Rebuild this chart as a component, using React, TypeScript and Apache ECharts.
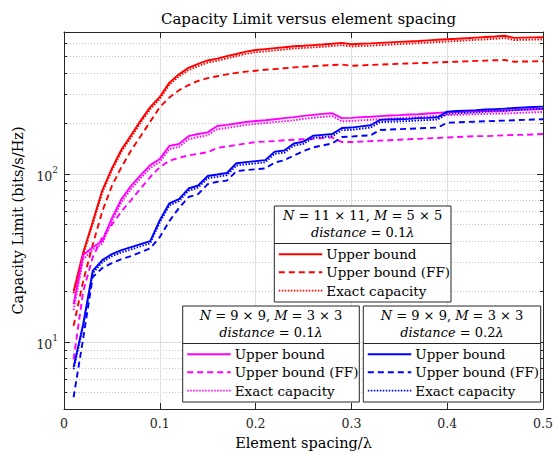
import React, { useEffect, useRef } from "react";
import * as echarts from "echarts";

// ---------- data ----------
const spacing = [
  0.01, 0.02, 0.03, 0.04, 0.05, 0.06, 0.07, 0.08, 0.09, 0.1,
  0.11, 0.12, 0.13, 0.14, 0.15, 0.16, 0.17, 0.18, 0.19, 0.2,
  0.21, 0.22, 0.23, 0.24, 0.25, 0.26, 0.27, 0.28, 0.29, 0.3,
  0.31, 0.32, 0.33, 0.34, 0.35, 0.36, 0.37, 0.38, 0.39, 0.4,
  0.41, 0.42, 0.43, 0.44, 0.45, 0.46, 0.47, 0.48, 0.49, 0.5,
];

// N = 11x11, M = 5x5, distance = 0.1 lambda (red)
const redUpper = [
  20, 34, 52, 80, 108, 140, 170, 208, 250, 288,
  350, 392, 428, 452, 474, 486, 503, 518, 535, 547,
  554, 561, 568, 576, 580, 585, 590, 596, 603, 592,
  596, 599, 603, 607, 611, 615, 619, 624, 629, 634,
  638, 643, 648, 653, 658, 665, 646, 648, 650, 652,
];
const redUpperFF = [
  12.5, 23, 38, 60, 85, 110, 138, 168, 205, 250,
  285, 315, 338, 358, 372, 382, 392, 400, 407, 412,
  417, 421, 426, 431, 435, 438, 442, 445, 448, 441,
  443, 446, 448, 450, 453, 455, 457, 459, 462, 464,
  466, 468, 471, 473, 475, 477, 466, 467, 468, 469,
];
const redExact = [
  19.5, 33, 50.5, 77.5, 105, 136, 165, 202, 243, 280,
  340, 381, 415, 439, 460, 472, 488, 503, 519, 531,
  537, 544, 551, 559, 563, 567, 572, 578, 585, 574,
  578, 581, 585, 589, 593, 597, 600, 605, 610, 615,
  619, 624, 629, 633, 638, 645, 627, 629, 631, 632,
];

// N = 9x9, M = 3x3, distance = 0.1 lambda (magenta)
const magentaUpper = [
  16.8, 33, 36.7, 40, 54.7, 71, 85, 98.6, 113, 123,
  147, 151, 168, 173, 177, 193, 196, 200, 204, 207,
  209, 212, 215, 218, 222, 225, 228, 230, 215, 216,
  218, 219, 221, 223, 224, 226, 227, 229, 231, 233,
  234, 235, 236, 237, 238, 239, 240, 242, 243, 244,
];
const magentaUpperFF = [
  7.9, 20, 32, 42, 50, 60, 70, 82, 96, 110,
  120, 125, 129, 132, 135, 143, 146, 149, 152, 155,
  156, 157, 159, 160, 161, 162, 164, 165, 155, 155,
  156, 157, 158, 159, 160, 161, 162, 163, 164, 165,
  166, 167, 168, 168, 169, 170, 171, 171, 172, 173,
];
const magentaExact = [
  15.5, 31, 35.5, 38.5, 52.5, 68, 81.5, 94.5, 108.5, 118,
  141, 145, 161, 166, 170, 185, 188, 192, 196, 199,
  201, 204, 206, 209, 213, 216, 219, 221, 206, 207,
  209, 210, 212, 214, 215, 217, 218, 220, 222, 224,
  225, 226, 227, 228, 229, 229, 230, 232, 233, 234,
];

// N = 9x9, M = 3x3, distance = 0.2 lambda (blue)
const blueUpper = [
  7.1, 12.8, 26.5, 30.8, 33.4, 35.3, 36.7, 38.3, 39.9, 53.2,
  67, 71, 82, 85.5, 97.3, 99.3, 101.4, 116, 117.8, 119.4,
  121, 136, 138, 152, 156, 169, 171, 173, 188, 189,
  192, 195, 210, 211, 212, 213, 215, 216, 217.5, 235,
  237, 238.5, 240, 242, 243.5, 245, 247, 249, 250.5, 252,
];
const blueUpperFF = [
  4.7, 10.5, 24.4, 27.6, 29.5, 31.2, 32.5, 34.3, 36.1, 42.2,
  52.5, 62.8, 73, 76, 87, 90, 91.4, 104, 105.6, 106.7,
  108, 117, 121, 129, 137, 144, 148, 152, 166, 167,
  169, 170, 183, 184, 185, 186, 187, 188, 189, 202,
  203, 204, 205, 206, 207, 208, 209, 210, 211, 212,
];
const blueExact = [
  6.9, 12.4, 25.7, 29.9, 32.4, 34.2, 35.6, 37.2, 38.7, 51.6,
  65, 69, 79.5, 83, 94.4, 96.3, 98.4, 112.5, 114.3, 115.8,
  117.4, 132, 134, 147.4, 151.3, 164, 166, 168, 182.4, 183.3,
  186, 189, 203.7, 204.7, 205.6, 206.6, 208.5, 209.5, 211, 228,
  230, 231.3, 232.8, 234.7, 236.2, 237.6, 239.6, 241.5, 243, 244.4,
];

const seriesNames = ["Upper bound", "Upper bound (FF)", "Exact capacity"];
const xTickLabels = ["0", "0.1", "0.2", "0.3", "0.4", "0.5"];
const yMajorTicks = [10, 100];
const yMajorExponents = ["1", "2"];
const yMinorTicks = [5, 6, 7, 8, 9, 20, 30, 40, 50, 60, 70, 80, 90, 200, 300, 400, 500, 600];

const titleText = "Capacity Limit versus element spacing";
const xName = "Element spacing/λ";
const yName = "Capacity Limit (bits/s/Hz)";

// ---------- styles ----------
const FONT = "'DejaVu Serif', 'Liberation Serif', serif";
const AXIS = "#262626";
const RED = "#ff0000";
const MAGENTA = "#ff00ff";
const BLUE = "#0000ff";
const DASH = [6, 4];
const DOT = [1.5, 1.5];
const LW = 1.9;

function pairs(vals: number[]) {
  return spacing.map((x, i) => [x, vals[i]]);
}

function mkSeries(name: string, vals: number[], color: string, dash: any) {
  return {
    type: "line",
    name,
    data: pairs(vals),
    xAxisIndex: 0,
    yAxisIndex: 0,
    showSymbol: false,
    symbol: "none",
    lineStyle: { color, width: LW, type: dash },
    itemStyle: { color },
    z: 3,
  };
}

function legendBox(
  x: number,
  y: number,
  w: number,
  color: string,
  h1: string,
  h2: string
) {
  const h = 96;
  const cx = x + w / 2;
  const rich = {
    i: { fontStyle: "italic", fontSize: 13, fontFamily: FONT, fill: "#000" },
  };
  const els: any[] = [
    {
      type: "rect",
      shape: { x, y, width: w, height: h },
      style: { fill: "#ffffff", stroke: AXIS, lineWidth: 1 },
      z: 100,
    },
    {
      type: "line",
      shape: { x1: x, y1: y + 37.5, x2: x + w, y2: y + 37.5 },
      style: { stroke: AXIS, lineWidth: 1 },
      z: 101,
    },
    {
      type: "text",
      x: cx,
      y: y + 9.5,
      style: {
        text: h1,
        rich,
        fontSize: 13,
        fontFamily: FONT,
        fill: "#000",
        align: "center",
        verticalAlign: "middle",
      },
      z: 101,
    },
    {
      type: "text",
      x: cx,
      y: y + 26.5,
      style: {
        text: h2,
        rich,
        fontSize: 13,
        fontFamily: FONT,
        fill: "#000",
        align: "center",
        verticalAlign: "middle",
      },
      z: 101,
    },
  ];
  const rowY = [y + 48.3, y + 66.3, y + 84.6];
  const dashes = [null, DASH, DOT];
  rowY.forEach((ry, k) => {
    els.push({
      type: "line",
      shape: { x1: x + 4.5, y1: ry, x2: x + 48, y2: ry },
      style: {
        stroke: color,
        lineWidth: LW,
        lineDash: dashes[k] || undefined,
      },
      z: 101,
    });
    els.push({
      type: "text",
      x: x + 52,
      y: ry,
      style: {
        text: seriesNames[k],
        fontSize: 13.5,
        fontFamily: FONT,
        fill: "#000",
        align: "left",
        verticalAlign: "middle",
      },
      z: 101,
    });
  });
  return els;
}

export default function App() {
  const ref = useRef<HTMLDivElement>(null);
  useEffect(() => {
    const chart = echarts.init(ref.current!, null, { renderer: "svg" });
    const grid = { left: 64, right: 12, top: 32, bottom: 46, outerBoundsMode: "none" };
    const labelText = { fontFamily: FONT, fontSize: 12.5, color: AXIS };
    const option: any = {
      animation: false,
      backgroundColor: "#ffffff",
      title: {
        text: titleText,
        left: 303.5,
        top: 6,
        textAlign: "center",
        textStyle: { fontFamily: FONT, fontSize: 15, fontWeight: "normal", color: "#000" },
      },
      grid: [grid, { ...grid }],
      xAxis: [
        {
          type: "value",
          gridIndex: 0,
          position: "bottom",
          min: 0,
          max: 0.5,
          interval: 0.1,
          axisLine: { show: true, onZero: false, lineStyle: { color: AXIS, width: 1 } },
          axisTick: { show: true, inside: true, length: 6, lineStyle: { color: AXIS } },
          axisLabel: {
            ...labelText,
            margin: 8,
            formatter: (v: number) => xTickLabels[Math.round(v * 10)] ?? "",
          },
          splitLine: { show: true, lineStyle: { color: "#dfdfdf", width: 1 } },
          name: xName,
          nameLocation: "middle",
          nameGap: 26,
          nameTextStyle: { fontFamily: FONT, fontSize: 14.5, color: "#000" },
        },
        {
          type: "value",
          gridIndex: 0,
          position: "top",
          min: 0,
          max: 0.5,
          interval: 0.1,
          axisLine: { show: true, onZero: false, lineStyle: { color: AXIS, width: 1 } },
          axisTick: { show: true, inside: true, length: 6, lineStyle: { color: AXIS } },
          axisLabel: { show: false },
          splitLine: { show: false },
        },
        {
          type: "value",
          gridIndex: 1,
          show: false,
          min: 0,
          max: 0.5,
          interval: 0.1,
        },
      ],
      yAxis: [
        {
          type: "log",
          logBase: 10,
          gridIndex: 0,
          position: "left",
          min: 4,
          max: 700,
          axisLine: { show: true, onZero: false, lineStyle: { color: AXIS, width: 1 } },
          axisTick: {
            show: true,
            inside: true,
            length: 6,
            customValues: yMajorTicks,
            lineStyle: { color: AXIS },
          },
          axisLabel: {
            show: true,
            margin: 6,
            customValues: yMajorTicks,
            formatter: (v: number) => {
              const k = yMajorTicks.indexOf(Math.round(v));
              return k >= 0 ? `{b|10}{s|${yMajorExponents[k]}}` : "";
            },
            rich: {
              b: { fontFamily: FONT, fontSize: 12.5, color: AXIS, lineHeight: 18, verticalAlign: "bottom" },
              s: { fontFamily: FONT, fontSize: 9, color: AXIS, lineHeight: 11, verticalAlign: "top" },
            },
          },
          splitLine: { show: true, lineStyle: { color: "#dfdfdf", width: 1 } },
          minorTick: { show: false },
          minorSplitLine: { show: false },
          name: yName,
          nameLocation: "middle",
          nameGap: 37,
          nameTextStyle: { fontFamily: FONT, fontSize: 14.5, color: "#000" },
        },
        {
          type: "log",
          logBase: 10,
          gridIndex: 0,
          position: "right",
          min: 4,
          max: 700,
          axisLine: { show: true, onZero: false, lineStyle: { color: AXIS, width: 1 } },
          axisTick: {
            show: true,
            inside: true,
            length: 6,
            customValues: yMajorTicks,
            lineStyle: { color: AXIS },
          },
          axisLabel: { show: false },
          splitLine: { show: false },
        },
        {
          type: "log",
          logBase: 10,
          gridIndex: 1,
          position: "left",
          min: 4,
          max: 700,
          axisLine: { show: false },
          axisTick: {
            show: true,
            inside: true,
            length: 3,
            customValues: yMinorTicks,
            lineStyle: { color: AXIS },
          },
          axisLabel: { show: false },
          splitLine: {
            show: true,
            lineStyle: { color: "#c4c4c4", width: 1, type: [1, 2] },
          },
        },
        {
          type: "log",
          logBase: 10,
          gridIndex: 1,
          position: "right",
          min: 4,
          max: 700,
          axisLine: { show: false },
          axisTick: {
            show: true,
            inside: true,
            length: 3,
            customValues: yMinorTicks,
            lineStyle: { color: AXIS },
          },
          axisLabel: { show: false },
          splitLine: { show: false },
        },
      ],
      series: [
        mkSeries("N=11x11 Upper bound", redUpper, RED, "solid"),
        mkSeries("N=11x11 Upper bound (FF)", redUpperFF, RED, DASH),
        mkSeries("N=11x11 Exact capacity", redExact, RED, DOT),
        mkSeries("N=9x9 d=0.1 Upper bound", magentaUpper, MAGENTA, "solid"),
        mkSeries("N=9x9 d=0.1 Upper bound (FF)", magentaUpperFF, MAGENTA, DASH),
        mkSeries("N=9x9 d=0.1 Exact capacity", magentaExact, MAGENTA, DOT),
        mkSeries("N=9x9 d=0.2 Upper bound", blueUpper, BLUE, "solid"),
        mkSeries("N=9x9 d=0.2 Upper bound (FF)", blueUpperFF, BLUE, DASH),
        mkSeries("N=9x9 d=0.2 Exact capacity", blueExact, BLUE, DOT),
      ],
      graphic: [
        ...legendBox(274.3, 206, 176.7, RED, "{i|N} = 11 × 11, {i|M} = 5 × 5", "{i|distance} = 0.1{i|λ}"),
        ...legendBox(182.7, 306, 176.6, MAGENTA, "{i|N} = 9 × 9, {i|M} = 3 × 3", "{i|distance} = 0.1{i|λ}"),
        ...legendBox(363.3, 306, 177.4, BLUE, "{i|N} = 9 × 9, {i|M} = 3 × 3", "{i|distance} = 0.2{i|λ}"),
      ],
    };
    chart.setOption(option);
    return () => chart.dispose();
  }, []);
  return (
    <div
      ref={ref}
      style={{ position: "fixed", left: 0, top: 0, width: 555, height: 455, background: "#fff" }}
    />
  );
}
